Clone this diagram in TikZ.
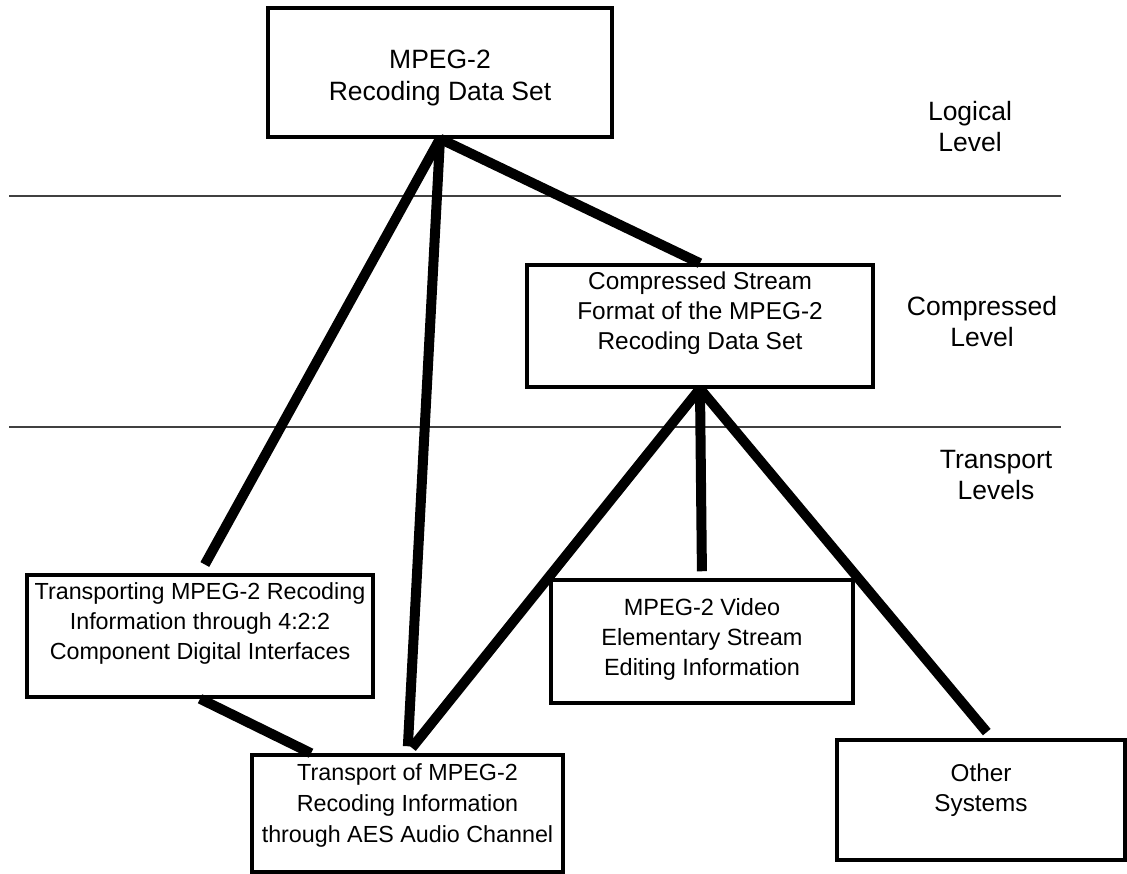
\documentclass[tikz,border=0pt]{standalone}
\usepackage{fontspec}
\setmainfont{Liberation Sans}
\usetikzlibrary{positioning,calc}

\begin{document}
\begin{tikzpicture}[x=1pt, y=-1pt,
    box/.style={draw, rectangle, line width=3.5pt, align=center, inner sep=0pt},
    tag/.style={align=center, inner sep=0pt, font=\fontsize{26.5pt}{31pt}\selectfont},
    link/.style={line width=10pt},
    level/.style={line width=2pt, black!75}]
  \useasboundingbox (0,0) rectangle (1127,874);

  % Level separators
  \coordinate (l1w) at (9,196);
  \coordinate (l1e) at (1061,196);
  \coordinate (l2w) at (9,427);
  \coordinate (l2e) at (1061,427);
  \draw[level] (l1w) -- (l1e);
  \draw[level] (l2w) -- (l2e);

  % Level names
  \node[tag] (logical) at (970,127) {Logical\\Level};
  \node[tag] (compressed) at (982,322) {Compressed\\Level};
  \node[tag] (transport) at (996,475) {Transport\\Levels};

  % Boxes
  \node[box, minimum width=344pt, minimum height=129pt, font=\fontsize{26.5pt}{32pt}\selectfont] (rds) at (440,72.5) {\mbox{}\\[-3pt]MPEG-2\\Recoding Data Set};
  \node[box, minimum width=346pt, minimum height=122pt, font=\fontsize{24.4pt}{30pt}\selectfont] (csf) at (700,326) {Compressed Stream\\Format of the MPEG-2\\Recoding Data Set\\[0pt]\mbox{}};
  \node[box, minimum width=346pt, minimum height=122pt, font=\fontsize{23.3pt}{30pt}\selectfont] (tr422) at (200,636) {Transporting MPEG-2 Recoding\\Information through 4:2:2\\Component Digital Interfaces\\[0pt]\mbox{}};
  \node[box, minimum width=302pt, minimum height=123pt, font=\fontsize{23.5pt}{30pt}\selectfont] (video) at (702,641.5) {MPEG-2 Video\\Elementary Stream\\Editing Information\\[-20pt]\mbox{}};
  \node[box, minimum width=311pt, minimum height=117pt, font=\fontsize{23.3pt}{31pt}\selectfont] (aes) at (407.5,813.5) {Transport of MPEG-2\\Recoding Information\\through AES Audio Channel\\[-10pt]\mbox{}};
  \node[box, minimum width=288pt, minimum height=120pt, font=\fontsize{24.3pt}{30pt}\selectfont] (other) at (981,800) {Other\\Systems\\[-6pt]\mbox{}};

  % Links between the boxes
  \path[link]
    (rds.south) edge (csf.north)
    (rds.south) edge[shorten >=10pt] (tr422.north)
    (rds.south) edge[shorten >=7pt] (aes.north)
    (csf.south) edge[shorten >=7pt] (aes.north)
    (csf.south) edge[shorten >=7pt] (video.north)
    (csf.south) edge[shorten >=8pt] (other.80)
    (tr422.south) edge (aes.148);
\end{tikzpicture}
\end{document}
